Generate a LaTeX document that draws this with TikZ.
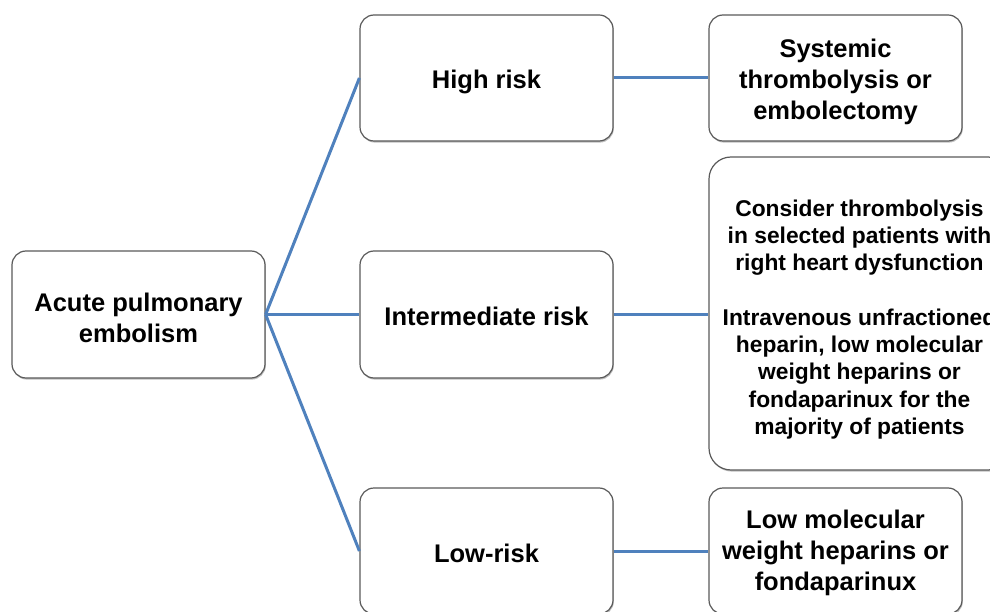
\documentclass[tikz,border=0pt]{standalone}
\usepackage{fontspec}
\setmainfont{Liberation Sans}
\usetikzlibrary{shadows}
\definecolor{linkblue}{RGB}{79,129,189}
\definecolor{boxgray}{RGB}{90,90,90}
\tikzset{
  box/.style={draw=boxgray, line width=1.2pt, rounded corners=14pt, fill=white,
    inner sep=0pt, minimum width=253pt, minimum height=126pt,
    drop shadow={shadow xshift=0.8pt, shadow yshift=-1.6pt, fill=black, opacity=0.25}},
  bigbox/.style={box, rounded corners=22pt, minimum width=301pt, minimum height=313pt},
  txt/.style={align=center, inner sep=0pt, font=\fontsize{25.5}{31}\selectfont\bfseries},
  bigtxt/.style={txt, font=\fontsize{22.8}{27.3}\selectfont\bfseries},
  link/.style={draw=linkblue, line width=3pt}
}
\begin{document}
\begin{tikzpicture}[x=1pt,y=-1pt]
\useasboundingbox (0,0) rectangle (990,612);
\fill[white] (0,0) rectangle (990,612);
\node[box, minimum height=127pt] (ape) at (138.5,314.5) {};
\node[box] (high) at (486.5,78) {};
\node[box, minimum height=127pt] (inter) at (486.5,314.5) {};
\node[box] (low) at (486.5,551) {};
\node[box] (sys) at (835.5,78) {};
\node[bigbox] (big) at (859.5,313.5) {};
\node[box] (lmw) at (835.5,551) {};
\node[txt] (apet) at ([yshift=-3pt]ape.center) {Acute pulmonary\\embolism};
\node[txt] (hight) at ([yshift=-4pt]high.center) {High risk};
\node[txt] (intert) at ([yshift=-2pt]inter.center) {Intermediate risk};
\node[txt] (lowt) at ([yshift=-2pt]low.center) {Low-risk};
\node[txt] (syst) at ([yshift=-4pt]sys.center) {Systemic\\thrombolysis or\\embolectomy};
\node[bigtxt] (bigt) at ([yshift=-6pt]big.center) {Consider thrombolysis\\in selected patients with\\right heart dysfunction\\[27.3pt]Intravenous unfractioned\\heparin, low molecular\\weight heparins or\\fondaparinux for the\\majority of patients};
\node[txt] (lmwt) at ([yshift=-2pt]lmw.center) {Low molecular\\weight heparins or\\fondaparinux};
\draw[link] (ape.east) -- (high.west);
\draw[link] (ape.east) -- (inter.west);
\draw[link] (ape.east) -- (low.west);
\draw[link] (high.east) -- (sys.west);
\draw[link] (inter.east) -- (inter.east -| big.west);
\draw[link] (low.east) -- (lmw.west);
\end{tikzpicture}
\end{document}
